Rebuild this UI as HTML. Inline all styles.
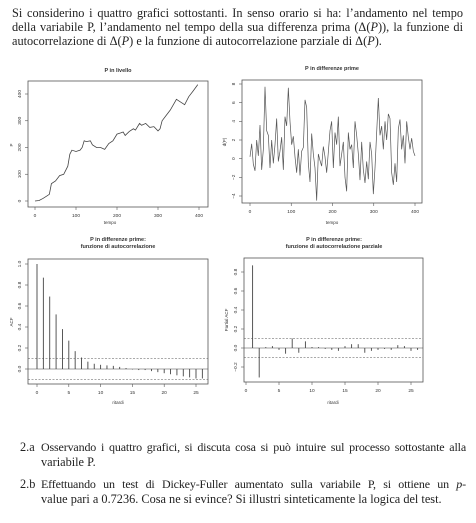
<!DOCTYPE html>
<html><head><meta charset="utf-8">
<style>
html,body{margin:0;padding:0;background:#fff;width:476px;height:523px;overflow:hidden}
.t{position:absolute;font-family:"Liberation Serif",serif;font-size:12.3px;color:#222;white-space:nowrap}
.j{text-align:justify;text-align-last:justify;white-space:normal}
.q{font-size:12px;letter-spacing:-0.15px}
svg{position:absolute;left:0;top:0}
svg text{font-family:"Liberation Sans",sans-serif;fill:#333}
</style></head><body>
<div class="t j" style="left:12px;top:6px;width:451px">Si considerino i quattro grafici sottostanti. In senso orario si ha: l’andamento nel tempo</div>
<div class="t j" style="left:12px;top:20px;width:451px">della variabile P, l’andamento nel tempo della sua differenza prima (Δ(<i>P</i>)), la funzione di</div>
<div class="t" style="left:12px;top:34px">autocorrelazione di Δ(<i>P</i>) e la funzione di autocorrelazione parziale di Δ(<i>P</i>).</div>

<div class="t" style="left:20px;top:440px">2.a</div>
<div class="t j q" style="left:41px;top:440px;width:425px">Osservando i quattro grafici, si discuta cosa si può intuire sul processo sottostante alla</div>
<div class="t" style="left:41px;top:455px">variabile P.</div>
<div class="t" style="left:20px;top:477px">2.b</div>
<div class="t j q" style="left:41px;top:477px;width:425px">Effettuando un test di Dickey-Fuller aumentato sulla variabile P, si ottiene un <i>p</i>-</div>
<div class="t" style="left:41px;top:492px">value pari a 0.7236. Cosa ne si evince? Si illustri sinteticamente la logica del test.</div>

<svg id="s" width="476" height="523"></svg>
<script>
const levelTime=[0,10,20,30,35,40,50,60,70,80,85,90,100,110,115,120,125,135,140,150,160,170,180,190,200,210,215,220,230,240,245,255,260,270,280,290,300,305,310,320,330,345,350,365,375,385,397];
const levelValues=[0,2,10,20,25,65,75,95,100,130,175,190,185,190,200,225,222,225,210,200,200,193,215,225,250,255,258,245,260,270,265,290,283,290,275,278,262,270,300,320,340,380,375,360,390,410,435];
const diffValues=[0.2,1.6,-0.6,-1.3,2.0,0.3,3.6,-1.2,1.0,7.7,3.0,2.5,-1.0,2.0,-0.5,1.5,4.3,-0.3,0.8,2.3,-1.2,4.5,3.5,7.6,4.0,1.5,2.4,0.2,-1.5,1.0,-1.8,0.8,1.2,6.3,5.5,-0.5,-2.5,2.7,0.5,-1.0,-4.5,0.5,-0.2,-0.8,1.3,0.2,-1.5,0.7,3.0,4.0,-1.0,2.8,1.5,4.5,-0.8,0.5,1.8,-2.0,-3.5,2.8,1.0,1.5,-1.0,4.0,2.5,0.5,-2.3,1.8,-1.2,-2.6,-0.3,-2.2,1.8,0.5,-3.8,-1.0,2.8,6.5,2.5,3.5,1.0,4.0,2.0,4.8,4.3,-1.5,-2.8,-0.5,-2.5,3.2,4.2,1.0,2.5,-0.5,4.0,2.3,1.0,2.2,0.8,0.3];
const acfValues=[1.0,0.87,0.69,0.52,0.38,0.27,0.17,0.11,0.07,0.05,0.04,0.035,0.03,0.02,0.01,-0.005,-0.01,-0.01,-0.02,-0.03,-0.04,-0.05,-0.06,-0.07,-0.08,-0.09,-0.09];
const pacfValues=[0.87,-0.31,0.01,0.02,-0.02,-0.06,0.10,-0.05,0.07,0.01,0.01,-0.01,-0.02,-0.03,0.02,0.04,0.04,-0.05,-0.03,-0.02,-0.01,-0.02,0.03,0.02,-0.03,-0.02];
const confBand=0.10;
const levelYTicks=[0,100,200,300,400];
const timeTicks=[0,100,200,300,400];
const diffYTicks=[-4,-2,0,2,4,6,8];
const acfYTicks=[0,0.2,0.4,0.6,0.8,1.0];
const acfYLabels=["0.0","0.2","0.4","0.6","0.8","1.0"];
const pacfYTicks=[-0.2,0,0.2,0.4,0.6,0.8];
const pacfYLabels=["\u22120.2","0.0","0.2","0.4","0.6","0.8"];
const lagTicks=[0,5,10,15,20,25];

const S=document.getElementById('s');
const NS='http://www.w3.org/2000/svg';
function el(tag,attrs,name,parent){const e=document.createElementNS(NS,tag);for(const k in attrs)e.setAttribute(k,attrs[k]);


(parent||S).appendChild(e);return e;}
function txt(x,y,s,name,size,rot,weight){const t=el('text',{x:x,y:y,'font-size':size||5,'text-anchor':'middle'},name);if(rot)t.setAttribute('transform','rotate(-90 '+x+' '+y+')');if(weight)t.setAttribute('font-weight',weight);t.textContent=s;return t;}
function lin(d0,d1,r0,r1){return v=>r0+(v-d0)*(r1-r0)/(d1-d0);}
function frame(L,T,R,B,name){el('rect',{x:L,y:T,width:R-L,height:B-T,fill:'none',stroke:'#555','stroke-width':0.8},name);}
function yAxis(L,ticks,labels,sy,name){ticks.forEach((v,i)=>{const y=sy(v);el('line',{x1:L-3,y1:y,x2:L,y2:y,stroke:'#555','stroke-width':0.6},name+'-tick');txt(L-7,y,labels[i],name+'-label',4.8,true);});}
function xAxis(B,ticks,sx,name){ticks.forEach(v=>{const x=sx(v);el('line',{x1:x,y1:B,x2:x,y2:B+3,stroke:'#555','stroke-width':0.6},name+'-tick');txt(x,B+10,String(v),name+'-label',4.8);});}

{const L=28,T=81,R=208,B=207;const sx=lin(0,400,35,199),sy=lin(0,400,201,94);
txt(118,72,'P in livello','level-title',5.5,false,'bold');frame(L,T,R,B,'level-frame');
yAxis(L,levelYTicks,levelYTicks.map(String),sy,'level-y');xAxis(B,timeTicks,sx,'level-x');
txt(110,224,'tempo','level-x-title',4.5);txt(13,145,'P','level-y-title',4.5,true);
el('polyline',{points:levelTime.map((t,i)=>sx(t)+','+sy(levelValues[i])).join(' '),fill:'none',stroke:'#444','stroke-width':0.8},'level-line');}

{const L=242,T=80,R=422,B=203;const sx=lin(0,400,250,415),sy=lin(-4,8,196,84);
txt(332,70,'P in differenze prime','diff-title',5.5,false,'bold');frame(L,T,R,B,'diff-frame');
yAxis(L,diffYTicks,diffYTicks.map(v=>v<0?'\u2212'+(-v):String(v)),sy,'diff-y');xAxis(B,timeTicks,sx,'diff-x');
txt(332,224,'tempo','diff-x-title',4.5);txt(226,142,'d(P)','diff-y-title',4.5,true);
el('polyline',{points:diffValues.map((v,i)=>sx(i*400/(diffValues.length-1))+','+sy(v)).join(' '),fill:'none',stroke:'#555','stroke-width':0.7},'diff-line');}

{const L=28,T=259,R=208,B=384;const sx=lin(0,25,37,196),sy=lin(0,1,369,264);
txt(118,241,'P in differenze prime:','acf-title-1',5.5,false,'bold');txt(118,248,'funzione di autocorrelazione','acf-title-2',5.5,false,'bold');
frame(L,T,R,B,'acf-frame');yAxis(L,acfYTicks,acfYLabels,sy,'acf-y');xAxis(B,lagTicks,sx,'acf-x');
txt(118,404,'ritardi','acf-x-title',4.5);txt(13,322,'ACF','acf-y-title',4.5,true);
el('line',{x1:L,y1:sy(0),x2:R,y2:sy(0),stroke:'#444','stroke-width':0.6},'acf-zero-line');
[confBand,-confBand].forEach(c=>el('line',{x1:L,y1:sy(c),x2:R,y2:sy(c),stroke:'#555','stroke-width':0.6,'stroke-dasharray':'2,1.5'},'acf-conf-band'));
acfValues.forEach((v,i)=>el('line',{x1:sx(i),y1:sy(0),x2:sx(i),y2:sy(v),stroke:'#444','stroke-width':0.9},'acf-bar'));}

{const L=244,T=258,R=423,B=382;const sx=lin(0,25,246,411),sy=lin(0,0.8,348,272);
txt(334,241,'P in differenze prime:','pacf-title-1',5.5,false,'bold');txt(334,248,'funzione di autocorrelazione parziale','pacf-title-2',5.5,false,'bold');
frame(L,T,R,B,'pacf-frame');yAxis(L,pacfYTicks,pacfYLabels,sy,'pacf-y');xAxis(B,lagTicks,sx,'pacf-x');
txt(333,404,'ritardi','pacf-x-title',4.5);txt(228,320,'Partial ACF','pacf-y-title',4.5,true);
el('line',{x1:L,y1:sy(0),x2:R,y2:sy(0),stroke:'#444','stroke-width':0.6},'pacf-zero-line');
[confBand,-confBand].forEach(c=>el('line',{x1:L,y1:sy(c),x2:R,y2:sy(c),stroke:'#555','stroke-width':0.6,'stroke-dasharray':'2,1.5'},'pacf-conf-band'));
pacfValues.forEach((v,i)=>el('line',{x1:sx(i+1),y1:sy(0),x2:sx(i+1),y2:sy(v),stroke:'#444','stroke-width':0.9},'pacf-bar'));}
</script>
</body></html>
